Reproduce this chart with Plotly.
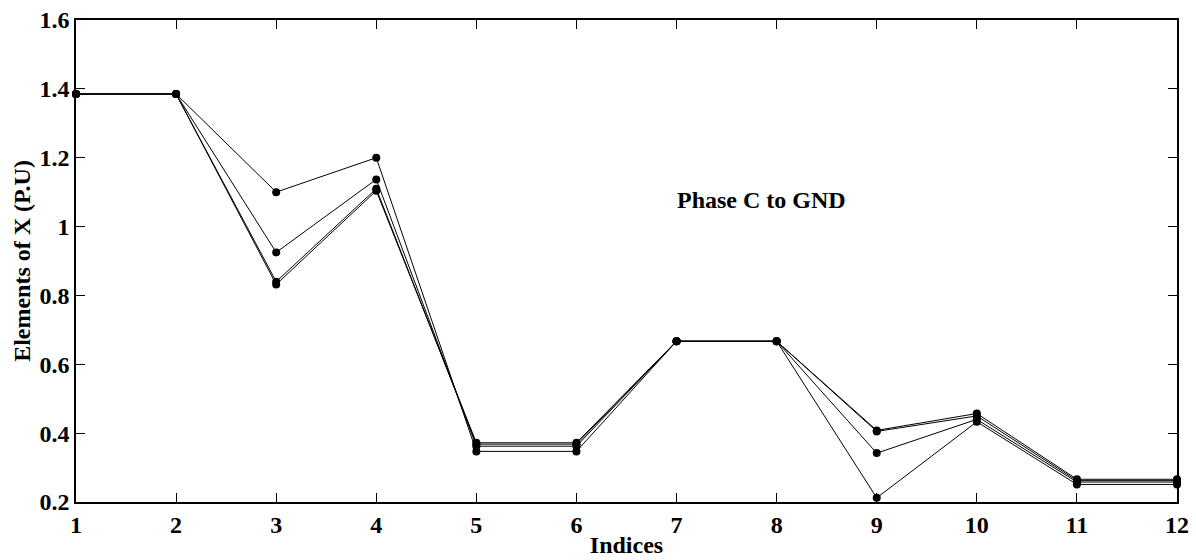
import plotly.graph_objects as go

indices = list(range(1, 13))
series_a = [1.385, 1.385, 1.100, 1.200, 0.347, 0.347, 0.667, 0.667, 0.212, 0.433, 0.251, 0.251]
series_b = [1.385, 1.385, 0.925, 1.137, 0.362, 0.362, 0.667, 0.667, 0.342, 0.440, 0.258, 0.258]
series_c = [1.385, 1.385, 0.840, 1.110, 0.368, 0.368, 0.667, 0.667, 0.405, 0.450, 0.262, 0.262]
series_d = [1.385, 1.385, 0.832, 1.104, 0.372, 0.372, 0.667, 0.667, 0.408, 0.457, 0.266, 0.266]

y_tickvals = [0.2, 0.4, 0.6, 0.8, 1.0, 1.2, 1.4, 1.6]
y_ticktext = ["0.2", "0.4", "0.6", "0.8", "1", "1.2", "1.4", "1.6"]

font_family = "Liberation Serif"
fs = 24

fig = go.Figure()
for ys in [series_a, series_b, series_c, series_d]:
    fig.add_trace(go.Scatter(
        x=indices, y=ys, mode="lines+markers",
        line=dict(color="black", width=1),
        marker=dict(color="black", size=8),
        cliponaxis=False, showlegend=False,
    ))

fig.add_annotation(x=7.85, y=1.077, text="<b>Phase C to GND</b>", showarrow=False,
                   font=dict(family=font_family, size=fs, color="black"))

fig.update_layout(
    width=1196, height=560,
    margin=dict(l=76, r=19, t=20, b=58),
    plot_bgcolor="white", paper_bgcolor="white",
    font=dict(family=font_family, color="black"),
    xaxis=dict(
        range=[1, 12], tickvals=indices, ticktext=[str(i) for i in indices],
        showgrid=False, zeroline=False, showline=True, linecolor="black", linewidth=1.5,
        mirror="ticks", ticks="inside", ticklen=9, tickcolor="black", tickwidth=1,
        tickfont=dict(family=font_family, size=fs, color="black", weight="bold"),
        title=dict(text="<b>Indices</b>", font=dict(family=font_family, size=fs, color="black"), standoff=0),
        automargin=False,
    ),
    yaxis=dict(
        range=[0.2, 1.6], tickvals=y_tickvals, ticktext=y_ticktext,
        showgrid=False, zeroline=False, showline=True, linecolor="black", linewidth=1.5,
        mirror="ticks", ticks="inside", ticklen=9, tickcolor="black", tickwidth=1,
        tickfont=dict(family=font_family, size=fs, color="black", weight="bold"),
        title=dict(text="<b>Elements of X (P.U)</b>", font=dict(family=font_family, size=fs, color="black"), standoff=2),
        automargin=False,
    ),
)

fig.write_html("out.html")
